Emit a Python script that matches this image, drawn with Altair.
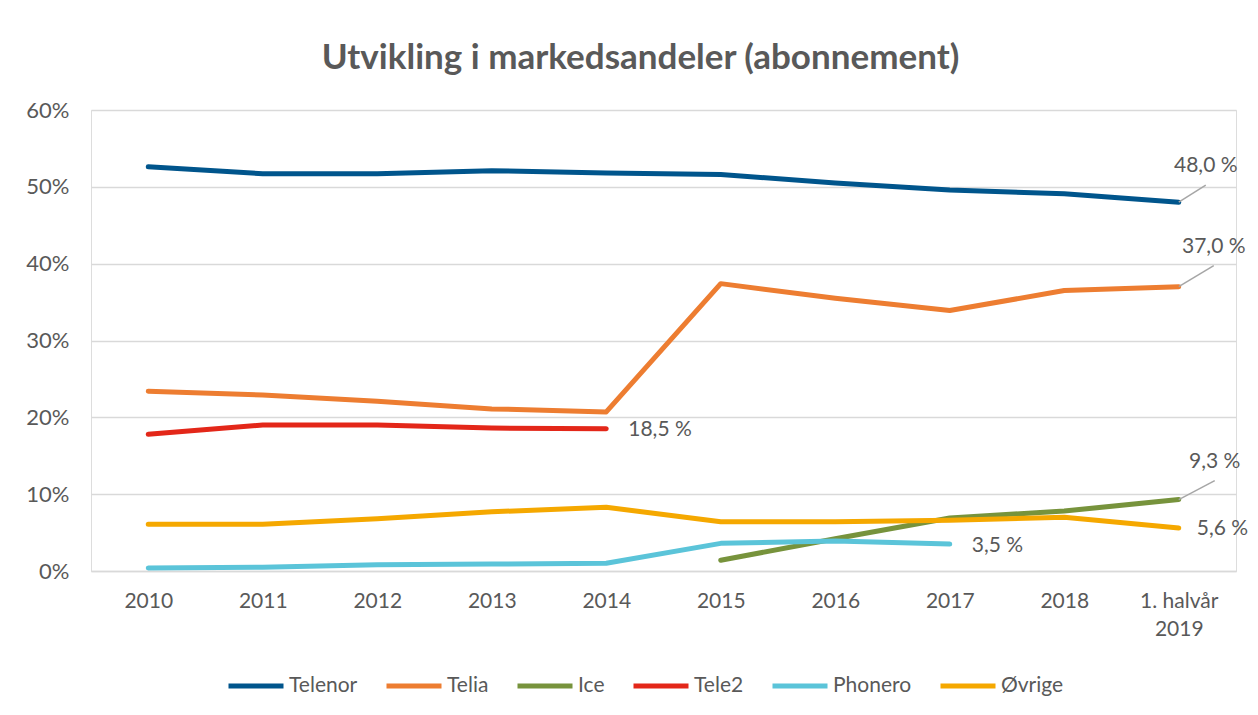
import altair as alt
import pandas as pd

categories = ["2010", "2011", "2012", "2013", "2014", "2015", "2016", "2017", "2018", "1. halvår 2019"]
series_names = ["Telenor", "Telia", "Ice", "Tele2", "Phonero", "Øvrige"]
series_colors = ["#00558C", "#ED7D31", "#77933C", "#E32719", "#5BC4D9", "#F5A800"]

telenor = [52.6, 51.7, 51.7, 52.1, 51.8, 51.6, 50.5, 49.6, 49.1, 48.0]
telia = [23.4, 22.9, 22.1, 21.1, 20.7, 37.4, 35.5, 33.9, 36.5, 37.0]
ice = [None, None, None, None, None, 1.4, 4.2, 6.9, 7.8, 9.3]
tele2 = [17.8, 19.0, 19.0, 18.6, 18.5, None, None, None, None, None]
phonero = [0.4, 0.5, 0.8, 0.9, 1.0, 3.6, 3.9, 3.5, None, None]
ovrige = [6.1, 6.1, 6.8, 7.7, 8.3, 6.4, 6.4, 6.6, 7.0, 5.6]

series_values = [telenor, telia, ice, tele2, phonero, ovrige]

rows = []
for name, vals in zip(series_names, series_values):
    for cat, v in zip(categories, vals):
        if v is not None:
            rows.append({"serie": name, "kategori": cat, "andel": v})
df = pd.DataFrame(rows)

# last value of each series gets a data label
last_rows = []
for name, vals in zip(series_names, series_values):
    idx = max(i for i, v in enumerate(vals) if v is not None)
    v = vals[idx]
    last_rows.append({"serie": name, "kategori": categories[idx], "andel": v,
                      "tekst": f"{v:.1f}".replace(".", ",") + " %"})
labels_df = pd.DataFrame(last_rows)

# label styling: (dx, dy, align, leader?)
label_style = {
    "Telenor": (27, -36, "center", True),
    "Telia": (35, -40, "center", True),
    "Ice": (36, -38, "center", True),
    "Tele2": (22, 1, "left", False),
    "Phonero": (22, 2, "left", False),
    "Øvrige": (18, 1, "left", False),
}

FONT = "Lato"
TXT = "#595959"

x_enc = alt.X(
    "kategori:N",
    sort=categories,
    scale=alt.Scale(type="point", padding=0.5),
    axis=alt.Axis(
        title=None,
        labelExpr="datum.value == '1. halvår 2019' ? ['1. halvår', '2019'] : datum.value",
        labelFont=FONT,
        labelFontSize=21,
        labelColor=TXT,
        labelPadding=19,
        labelLineHeight=28,
        ticks=False,
        tickSize=0,
        domain=True,
        domainColor="#D9D9D9",
        domainWidth=1.5,
        grid=False,
        labelAngle=0,
    ),
)
y_enc = alt.Y(
    "andel:Q",
    scale=alt.Scale(domain=[0, 60], nice=False),
    axis=alt.Axis(
        title=None,
        values=[0, 10, 20, 30, 40, 50, 60],
        labelExpr="datum.value + '%'",
        labelFont=FONT,
        labelFontSize=22,
        labelColor=TXT,
        labelPadding=22,
        ticks=False,
        tickSize=0,
        domain=False,
        grid=True,
        gridColor="#D9D9D9",
        gridWidth=1.5,
    ),
)

lines = alt.Chart(df).mark_line(strokeWidth=5, strokeCap="round", strokeJoin="round").encode(
    x=x_enc,
    y=y_enc,
    color=alt.Color(
        "serie:N",
        scale=alt.Scale(domain=series_names, range=series_colors),
        legend=alt.Legend(
            title=None,
            orient="none",
            legendX=135,
            legendY=546,
            direction="horizontal",
            columns=6,
            symbolType="stroke",
            symbolSize=3025,
            symbolStrokeWidth=5,
            labelFont=FONT,
            labelFontSize=21,
            labelColor=TXT,
            labelOffset=3,
            columnPadding=18,
        ),
    ),
    order=alt.Order("kategori_idx:Q"),
).transform_calculate(
    kategori_idx="indexof(" + str(categories).replace("'", '"') + ", datum.kategori)"
)

layers = [lines]
for name in series_names:
    dx, dy, align, leader = label_style[name]
    base = alt.Chart(labels_df).transform_filter(alt.datum.serie == name)
    if leader:
        layers.append(
            base.mark_rule(color="#A6A6A6", strokeWidth=1.5, x2Offset=dx, y2Offset=dy + 19).encode(
                x=alt.X("kategori:N", sort=categories),
                x2="kategori:N",
                y="andel:Q",
                y2="andel:Q",
            )
        )
    layers.append(
        base.mark_text(font=FONT, fontSize=21, color=TXT, align=align, baseline="middle", dx=dx, dy=dy).encode(
            x=alt.X("kategori:N", sort=categories),
            y="andel:Q",
            text="tekst:N",
        )
    )

chart = alt.layer(*layers).properties(
    width=1145,
    height=461,
    title=alt.TitleParams(
        "Utvikling i markedsandeler (abonnement)",
        font=FONT,
        fontSize=35,
        fontWeight="bold",
        color=TXT,
        anchor="middle",
        dx=-23,
        offset=23,
    ),
    autosize=alt.AutoSizeParams(type="none"),
    padding={"left": 83, "top": 102, "right": 14, "bottom": 140},
).configure_view(stroke=None).configure(background="white")

chart.save("out.html", embed_options={"renderer": "svg", "actions": False})
